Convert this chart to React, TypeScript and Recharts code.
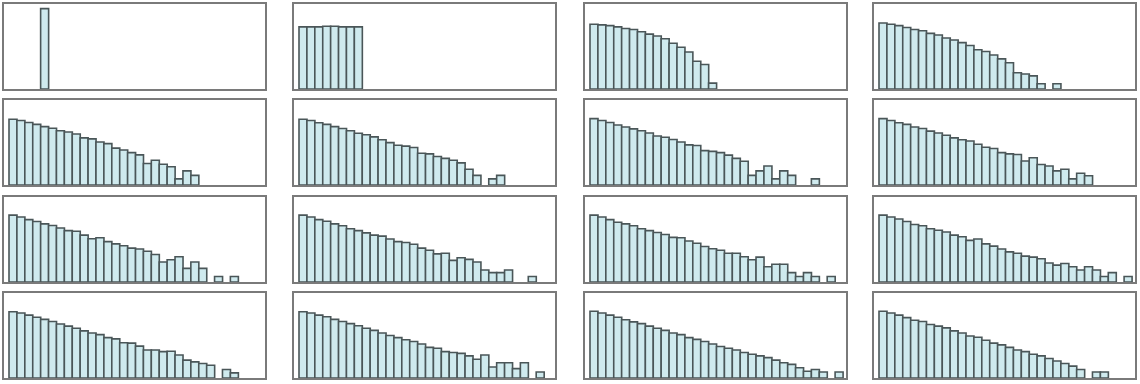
import React from "react";
import { BarChart, Bar, XAxis, YAxis } from "recharts";

// 32 bins per panel, heights as % of the shared y range (0 = empty bin)
const BIN_COUNT = 32;

const panel1 = [0, 0, 0, 0, 94.6];
const panel2 = [73.1, 73.1, 73.1, 73.8, 73.8, 73.1, 73.1, 73.1];
const panel3 = [76.2, 75.4, 74.6, 73.1, 71.2, 70.0, 67.3, 64.6, 62.3, 59.2, 53.8, 49.2, 43.5, 32.7, 28.8, 6.9];
const panel4 = [77.7, 76.2, 74.6, 72.3, 70.0, 68.5, 65.4, 63.5, 60.0, 57.7, 54.6, 51.2, 46.2, 44.2, 40.0, 35.4, 30.8, 19.2, 17.7, 15.4, 6.2, 0, 6.2];
const panel5 = [77.4, 75.8, 73.6, 71.3, 68.7, 66.8, 63.8, 62.3, 60.0, 55.5, 54.3, 50.6, 48.7, 43.4, 41.1, 38.1, 35.5, 25.3, 29.1, 24.5, 21.5, 7.2, 16.6, 11.3];
const panel6 = [77.4, 75.8, 73.2, 71.3, 68.7, 66.4, 63.8, 60.8, 59.2, 56.6, 53.2, 49.8, 46.8, 45.7, 44.2, 37.4, 36.6, 33.6, 31.3, 29.1, 26.0, 18.5, 11.3, 0, 7.2, 11.3];
const panel7 = [78.1, 75.8, 73.6, 70.6, 68.3, 66.0, 63.8, 61.1, 57.7, 56.2, 53.6, 50.6, 47.2, 46.4, 40.4, 39.6, 38.1, 35.1, 31.3, 27.9, 11.3, 16.6, 22.3, 7.2, 16.6, 11.3, 0, 0, 7.2];
const panel8 = [78.1, 75.8, 73.2, 71.3, 68.3, 66.4, 63.4, 61.1, 58.5, 55.5, 53.2, 51.7, 47.9, 44.5, 43.0, 38.1, 36.6, 35.8, 28.3, 32.1, 24.2, 22.3, 16.6, 18.5, 7.2, 13.9, 10.9];
const panel9 = [78.7, 76.4, 73.4, 71.1, 68.4, 66.5, 63.5, 60.5, 59.7, 55.1, 50.9, 52.1, 47.5, 44.9, 42.6, 39.9, 38.8, 36.1, 32.3, 23.6, 26.2, 29.7, 16.0, 23.6, 16.0, 0, 6.5, 0, 6.5];
const panel10 = [78.7, 76.4, 73.4, 71.5, 68.4, 66.2, 62.7, 60.5, 57.8, 55.1, 54.0, 50.6, 47.5, 46.4, 44.5, 39.9, 37.3, 33.1, 33.8, 25.5, 28.5, 26.6, 23.6, 14.1, 11.0, 11.0, 14.1, 0, 0, 6.5];
const panel11 = [78.7, 76.4, 73.4, 70.3, 68.4, 66.2, 62.7, 60.5, 58.2, 55.9, 52.5, 52.1, 48.3, 45.6, 41.8, 39.2, 37.3, 33.8, 33.8, 29.7, 26.2, 29.3, 17.9, 20.9, 20.9, 11.0, 6.5, 11.0, 6.5, 0, 6.5];
const panel12 = [78.7, 76.4, 74.1, 71.1, 67.7, 66.2, 62.7, 60.8, 58.9, 55.1, 53.2, 49.0, 50.6, 44.9, 42.2, 38.8, 35.4, 33.8, 30.4, 29.3, 27.4, 22.4, 19.8, 21.7, 17.9, 14.1, 17.9, 14.1, 6.5, 11.0, 0, 6.5];
const panel13 = [78, 76.5, 74, 71.5, 69, 66.5, 63.5, 61, 58.5, 55.5, 53, 51, 47.5, 46, 41.5, 41, 37.5, 33, 33, 31, 31.5, 27, 21, 19, 17, 15, 0, 10, 6];
const panel14 = [78, 76.5, 74, 72, 69, 66.5, 64, 61.5, 58.5, 56, 53, 50, 47.5, 45, 43, 40, 36, 35, 31, 30, 29, 26, 22, 27, 13, 18, 18, 11, 18, 0, 7];
const panel15 = [78.5, 76.5, 74, 71.5, 68.5, 66, 64, 61, 58.5, 56, 53, 51, 47.5, 45.5, 43, 40, 37, 35, 33, 30, 28, 26, 24, 21, 18, 16, 12, 8, 10, 7, 0, 7];
const panel16 = [78.5, 76.5, 74, 71, 68, 66.5, 63, 61, 59, 55.5, 53, 49.5, 48, 44.5, 41, 39, 36, 33, 31, 28, 26, 23, 20, 17, 14, 10, 0, 7, 7];

const PANELS = [
  panel1, panel2, panel3, panel4,
  panel5, panel6, panel7, panel8,
  panel9, panel10, panel11, panel12,
  panel13, panel14, panel15, panel16,
];

const COL_LEFT = [2, 292, 583, 872];
const ROW_TOP = [2, 98, 195, 291];

function toData(values: number[]) {
  return Array.from({ length: BIN_COUNT }, (_, i) => ({
    bin: i,
    v: values[i] ? values[i] : null,
  }));
}

function Panel({ values }: { values: number[] }) {
  const data = toData(values);
  return (
    <BarChart
      width={261}
      height={85}
      data={data}
      margin={{ top: 0, right: 3, bottom: 0, left: 5 }}
      barCategoryGap={0}
    >
      <XAxis dataKey="bin" hide />
      <YAxis domain={[0, 100]} hide />
      <Bar
        dataKey="v"
        fill="#cfeaee"
        stroke="#4a5658"
        strokeWidth={1.6}
        isAnimationActive={false}
      />
    </BarChart>
  );
}

export default function App() {
  return (
    <div
      style={{
        position: "absolute",
        left: 0,
        top: 0,
        width: 1140,
        height: 384,
        background: "#fff",
      }}
    >
      {PANELS.map((values, i) => (
        <div
          key={i}
          style={{
            position: "absolute",
            left: COL_LEFT[i % 4],
            top: ROW_TOP[Math.floor(i / 4)],
            width: 265,
            height: 89,
            boxSizing: "border-box",
            border: "2px solid #7a7a7a",
          }}
        >
          <Panel values={values} />
        </div>
      ))}
    </div>
  );
}
